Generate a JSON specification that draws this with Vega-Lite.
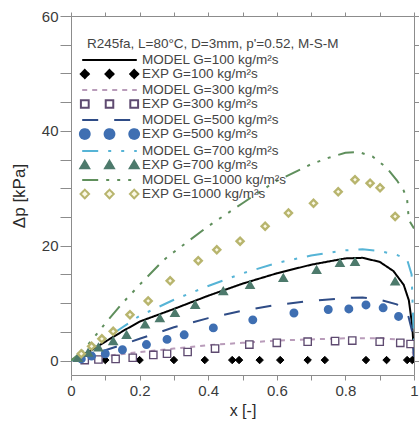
{
  "$schema": "https://vega.github.io/schema/vega-lite/v6.json",
  "width": 343,
  "height": 359,
  "autosize": {"type": "none"},
  "padding": {"left": 71, "top": 16, "right": 5, "bottom": 46},
  "config": {
    "font": "Liberation Sans",
    "view": {"stroke": "#8c8c8c", "strokeWidth": 1},
    "axis": {
      "grid": false,
      "domain": false,
      "tickColor": "#8c8c8c",
      "labelColor": "#3a3a3a",
      "titleColor": "#2a2a2a",
      "titleFontWeight": "normal",
      "labelFont": "Liberation Sans",
      "titleFont": "Liberation Sans"
    }
  },
  "datasets": {
    "runs": [
      {"series": "MODEL G=100 kg/m²s", "kind": "MODEL", "x": 0, "dp": 0},
      {"series": "MODEL G=100 kg/m²s", "kind": "MODEL", "x": 0.05, "dp": 1.5},
      {"series": "MODEL G=100 kg/m²s", "kind": "MODEL", "x": 0.1, "dp": 3.3},
      {"series": "MODEL G=100 kg/m²s", "kind": "MODEL", "x": 0.15, "dp": 5.1},
      {"series": "MODEL G=100 kg/m²s", "kind": "MODEL", "x": 0.2, "dp": 6.8},
      {"series": "MODEL G=100 kg/m²s", "kind": "MODEL", "x": 0.3, "dp": 9.0},
      {"series": "MODEL G=100 kg/m²s", "kind": "MODEL", "x": 0.4, "dp": 11.3},
      {"series": "MODEL G=100 kg/m²s", "kind": "MODEL", "x": 0.5, "dp": 13.4},
      {"series": "MODEL G=100 kg/m²s", "kind": "MODEL", "x": 0.6, "dp": 15.2},
      {"series": "MODEL G=100 kg/m²s", "kind": "MODEL", "x": 0.7, "dp": 16.7},
      {"series": "MODEL G=100 kg/m²s", "kind": "MODEL", "x": 0.8, "dp": 17.8},
      {"series": "MODEL G=100 kg/m²s", "kind": "MODEL", "x": 0.85, "dp": 17.9},
      {"series": "MODEL G=100 kg/m²s", "kind": "MODEL", "x": 0.9, "dp": 17.2},
      {"series": "MODEL G=100 kg/m²s", "kind": "MODEL", "x": 0.94, "dp": 15.6},
      {"series": "MODEL G=100 kg/m²s", "kind": "MODEL", "x": 0.97, "dp": 13.2},
      {"series": "MODEL G=100 kg/m²s", "kind": "MODEL", "x": 0.985, "dp": 10.5},
      {"series": "MODEL G=100 kg/m²s", "kind": "MODEL", "x": 0.995, "dp": 6.0},
      {"series": "MODEL G=100 kg/m²s", "kind": "MODEL", "x": 1.0, "dp": 1.0},

      {"series": "MODEL G=300 kg/m²s", "kind": "MODEL", "x": 0, "dp": 0},
      {"series": "MODEL G=300 kg/m²s", "kind": "MODEL", "x": 0.1, "dp": 0.8},
      {"series": "MODEL G=300 kg/m²s", "kind": "MODEL", "x": 0.2, "dp": 1.5},
      {"series": "MODEL G=300 kg/m²s", "kind": "MODEL", "x": 0.3, "dp": 2.1},
      {"series": "MODEL G=300 kg/m²s", "kind": "MODEL", "x": 0.4, "dp": 2.7},
      {"series": "MODEL G=300 kg/m²s", "kind": "MODEL", "x": 0.5, "dp": 3.1},
      {"series": "MODEL G=300 kg/m²s", "kind": "MODEL", "x": 0.6, "dp": 3.5},
      {"series": "MODEL G=300 kg/m²s", "kind": "MODEL", "x": 0.7, "dp": 3.7},
      {"series": "MODEL G=300 kg/m²s", "kind": "MODEL", "x": 0.8, "dp": 3.9},
      {"series": "MODEL G=300 kg/m²s", "kind": "MODEL", "x": 0.9, "dp": 3.9},
      {"series": "MODEL G=300 kg/m²s", "kind": "MODEL", "x": 0.95, "dp": 3.7},
      {"series": "MODEL G=300 kg/m²s", "kind": "MODEL", "x": 0.99, "dp": 3.1},
      {"series": "MODEL G=300 kg/m²s", "kind": "MODEL", "x": 1.0, "dp": 0.5},

      {"series": "MODEL G=500 kg/m²s", "kind": "MODEL", "x": 0, "dp": 0},
      {"series": "MODEL G=500 kg/m²s", "kind": "MODEL", "x": 0.1, "dp": 1.8},
      {"series": "MODEL G=500 kg/m²s", "kind": "MODEL", "x": 0.2, "dp": 3.8},
      {"series": "MODEL G=500 kg/m²s", "kind": "MODEL", "x": 0.3, "dp": 5.8},
      {"series": "MODEL G=500 kg/m²s", "kind": "MODEL", "x": 0.4, "dp": 7.4},
      {"series": "MODEL G=500 kg/m²s", "kind": "MODEL", "x": 0.5, "dp": 8.7},
      {"series": "MODEL G=500 kg/m²s", "kind": "MODEL", "x": 0.6, "dp": 9.7},
      {"series": "MODEL G=500 kg/m²s", "kind": "MODEL", "x": 0.7, "dp": 10.4},
      {"series": "MODEL G=500 kg/m²s", "kind": "MODEL", "x": 0.8, "dp": 10.9},
      {"series": "MODEL G=500 kg/m²s", "kind": "MODEL", "x": 0.85, "dp": 11.0},
      {"series": "MODEL G=500 kg/m²s", "kind": "MODEL", "x": 0.9, "dp": 10.6},
      {"series": "MODEL G=500 kg/m²s", "kind": "MODEL", "x": 0.95, "dp": 9.8},
      {"series": "MODEL G=500 kg/m²s", "kind": "MODEL", "x": 0.98, "dp": 8.6},
      {"series": "MODEL G=500 kg/m²s", "kind": "MODEL", "x": 0.995, "dp": 5.0},
      {"series": "MODEL G=500 kg/m²s", "kind": "MODEL", "x": 1.0, "dp": 0.5},

      {"series": "MODEL G=700 kg/m²s", "kind": "MODEL", "x": 0, "dp": 0},
      {"series": "MODEL G=700 kg/m²s", "kind": "MODEL", "x": 0.05, "dp": 1.8},
      {"series": "MODEL G=700 kg/m²s", "kind": "MODEL", "x": 0.1, "dp": 3.8},
      {"series": "MODEL G=700 kg/m²s", "kind": "MODEL", "x": 0.2, "dp": 7.8},
      {"series": "MODEL G=700 kg/m²s", "kind": "MODEL", "x": 0.3, "dp": 10.6},
      {"series": "MODEL G=700 kg/m²s", "kind": "MODEL", "x": 0.4, "dp": 13.0},
      {"series": "MODEL G=700 kg/m²s", "kind": "MODEL", "x": 0.5, "dp": 15.2},
      {"series": "MODEL G=700 kg/m²s", "kind": "MODEL", "x": 0.6, "dp": 17.0},
      {"series": "MODEL G=700 kg/m²s", "kind": "MODEL", "x": 0.7, "dp": 18.3},
      {"series": "MODEL G=700 kg/m²s", "kind": "MODEL", "x": 0.8, "dp": 19.2},
      {"series": "MODEL G=700 kg/m²s", "kind": "MODEL", "x": 0.85, "dp": 19.4},
      {"series": "MODEL G=700 kg/m²s", "kind": "MODEL", "x": 0.9, "dp": 19.1},
      {"series": "MODEL G=700 kg/m²s", "kind": "MODEL", "x": 0.95, "dp": 18.4},
      {"series": "MODEL G=700 kg/m²s", "kind": "MODEL", "x": 0.98, "dp": 17.6},
      {"series": "MODEL G=700 kg/m²s", "kind": "MODEL", "x": 0.993, "dp": 15.0},
      {"series": "MODEL G=700 kg/m²s", "kind": "MODEL", "x": 1.0, "dp": 3.0},

      {"series": "MODEL G=1000 kg/m²s", "kind": "MODEL", "x": 0, "dp": 0},
      {"series": "MODEL G=1000 kg/m²s", "kind": "MODEL", "x": 0.03, "dp": 1.5},
      {"series": "MODEL G=1000 kg/m²s", "kind": "MODEL", "x": 0.06, "dp": 3.5},
      {"series": "MODEL G=1000 kg/m²s", "kind": "MODEL", "x": 0.1, "dp": 6.5},
      {"series": "MODEL G=1000 kg/m²s", "kind": "MODEL", "x": 0.15, "dp": 10.0},
      {"series": "MODEL G=1000 kg/m²s", "kind": "MODEL", "x": 0.2, "dp": 13.2},
      {"series": "MODEL G=1000 kg/m²s", "kind": "MODEL", "x": 0.27, "dp": 17.5},
      {"series": "MODEL G=1000 kg/m²s", "kind": "MODEL", "x": 0.3, "dp": 18.9},
      {"series": "MODEL G=1000 kg/m²s", "kind": "MODEL", "x": 0.4, "dp": 23.4},
      {"series": "MODEL G=1000 kg/m²s", "kind": "MODEL", "x": 0.5, "dp": 27.4},
      {"series": "MODEL G=1000 kg/m²s", "kind": "MODEL", "x": 0.56, "dp": 29.8},
      {"series": "MODEL G=1000 kg/m²s", "kind": "MODEL", "x": 0.6, "dp": 31.3},
      {"series": "MODEL G=1000 kg/m²s", "kind": "MODEL", "x": 0.7, "dp": 34.2},
      {"series": "MODEL G=1000 kg/m²s", "kind": "MODEL", "x": 0.75, "dp": 35.3},
      {"series": "MODEL G=1000 kg/m²s", "kind": "MODEL", "x": 0.8, "dp": 36.2},
      {"series": "MODEL G=1000 kg/m²s", "kind": "MODEL", "x": 0.84, "dp": 36.3},
      {"series": "MODEL G=1000 kg/m²s", "kind": "MODEL", "x": 0.88, "dp": 35.5},
      {"series": "MODEL G=1000 kg/m²s", "kind": "MODEL", "x": 0.92, "dp": 33.6},
      {"series": "MODEL G=1000 kg/m²s", "kind": "MODEL", "x": 0.95, "dp": 31.4},
      {"series": "MODEL G=1000 kg/m²s", "kind": "MODEL", "x": 0.97, "dp": 29.6},
      {"series": "MODEL G=1000 kg/m²s", "kind": "MODEL", "x": 0.98, "dp": 28.0},
      {"series": "MODEL G=1000 kg/m²s", "kind": "MODEL", "x": 0.985, "dp": 24.5},
      {"series": "MODEL G=1000 kg/m²s", "kind": "MODEL", "x": 1.0, "dp": 23.0},

      {"series": "EXP G=100 kg/m²s", "kind": "EXP", "x": 0.1, "dp": 0.1},
      {"series": "EXP G=100 kg/m²s", "kind": "EXP", "x": 0.2, "dp": 0.1},
      {"series": "EXP G=100 kg/m²s", "kind": "EXP", "x": 0.3, "dp": 0.1},
      {"series": "EXP G=100 kg/m²s", "kind": "EXP", "x": 0.39, "dp": 0.1},
      {"series": "EXP G=100 kg/m²s", "kind": "EXP", "x": 0.47, "dp": 0.1},
      {"series": "EXP G=100 kg/m²s", "kind": "EXP", "x": 0.49, "dp": 0.1},
      {"series": "EXP G=100 kg/m²s", "kind": "EXP", "x": 0.55, "dp": 0.1},
      {"series": "EXP G=100 kg/m²s", "kind": "EXP", "x": 0.61, "dp": 0.1},
      {"series": "EXP G=100 kg/m²s", "kind": "EXP", "x": 0.69, "dp": 0.1},
      {"series": "EXP G=100 kg/m²s", "kind": "EXP", "x": 0.74, "dp": 0.1},
      {"series": "EXP G=100 kg/m²s", "kind": "EXP", "x": 0.86, "dp": 0.1},
      {"series": "EXP G=100 kg/m²s", "kind": "EXP", "x": 0.92, "dp": 0.1},
      {"series": "EXP G=100 kg/m²s", "kind": "EXP", "x": 0.98, "dp": 0.1},
      {"series": "EXP G=100 kg/m²s", "kind": "EXP", "x": 0.995, "dp": 0.1},

      {"series": "EXP G=300 kg/m²s", "kind": "EXP", "x": 0.04, "dp": 0.1},
      {"series": "EXP G=300 kg/m²s", "kind": "EXP", "x": 0.08, "dp": 0.2},
      {"series": "EXP G=300 kg/m²s", "kind": "EXP", "x": 0.13, "dp": 0.3},
      {"series": "EXP G=300 kg/m²s", "kind": "EXP", "x": 0.18, "dp": 0.5},
      {"series": "EXP G=300 kg/m²s", "kind": "EXP", "x": 0.24, "dp": 1.0},
      {"series": "EXP G=300 kg/m²s", "kind": "EXP", "x": 0.28, "dp": 1.2},
      {"series": "EXP G=300 kg/m²s", "kind": "EXP", "x": 0.34, "dp": 1.5},
      {"series": "EXP G=300 kg/m²s", "kind": "EXP", "x": 0.42, "dp": 2.1},
      {"series": "EXP G=300 kg/m²s", "kind": "EXP", "x": 0.52, "dp": 2.8},
      {"series": "EXP G=300 kg/m²s", "kind": "EXP", "x": 0.6, "dp": 3.1},
      {"series": "EXP G=300 kg/m²s", "kind": "EXP", "x": 0.69, "dp": 3.3},
      {"series": "EXP G=300 kg/m²s", "kind": "EXP", "x": 0.77, "dp": 3.4},
      {"series": "EXP G=300 kg/m²s", "kind": "EXP", "x": 0.82, "dp": 3.5},
      {"series": "EXP G=300 kg/m²s", "kind": "EXP", "x": 0.9, "dp": 3.3},
      {"series": "EXP G=300 kg/m²s", "kind": "EXP", "x": 0.96, "dp": 3.1},
      {"series": "EXP G=300 kg/m²s", "kind": "EXP", "x": 0.99, "dp": 2.9},

      {"series": "EXP G=500 kg/m²s", "kind": "EXP", "x": 0.03, "dp": 0.3},
      {"series": "EXP G=500 kg/m²s", "kind": "EXP", "x": 0.06, "dp": 0.8},
      {"series": "EXP G=500 kg/m²s", "kind": "EXP", "x": 0.1, "dp": 1.2},
      {"series": "EXP G=500 kg/m²s", "kind": "EXP", "x": 0.15, "dp": 1.9},
      {"series": "EXP G=500 kg/m²s", "kind": "EXP", "x": 0.22, "dp": 2.8},
      {"series": "EXP G=500 kg/m²s", "kind": "EXP", "x": 0.28, "dp": 3.7},
      {"series": "EXP G=500 kg/m²s", "kind": "EXP", "x": 0.33, "dp": 4.5},
      {"series": "EXP G=500 kg/m²s", "kind": "EXP", "x": 0.415, "dp": 5.7},
      {"series": "EXP G=500 kg/m²s", "kind": "EXP", "x": 0.53, "dp": 7.1},
      {"series": "EXP G=500 kg/m²s", "kind": "EXP", "x": 0.65, "dp": 8.3},
      {"series": "EXP G=500 kg/m²s", "kind": "EXP", "x": 0.75, "dp": 8.9},
      {"series": "EXP G=500 kg/m²s", "kind": "EXP", "x": 0.81, "dp": 9.0},
      {"series": "EXP G=500 kg/m²s", "kind": "EXP", "x": 0.86, "dp": 9.7},
      {"series": "EXP G=500 kg/m²s", "kind": "EXP", "x": 0.91, "dp": 9.2},
      {"series": "EXP G=500 kg/m²s", "kind": "EXP", "x": 0.955, "dp": 7.7},

      {"series": "EXP G=700 kg/m²s", "kind": "EXP", "x": 0.02, "dp": 0.5},
      {"series": "EXP G=700 kg/m²s", "kind": "EXP", "x": 0.05, "dp": 1.4},
      {"series": "EXP G=700 kg/m²s", "kind": "EXP", "x": 0.08, "dp": 2.3},
      {"series": "EXP G=700 kg/m²s", "kind": "EXP", "x": 0.123, "dp": 3.4},
      {"series": "EXP G=700 kg/m²s", "kind": "EXP", "x": 0.162, "dp": 4.5},
      {"series": "EXP G=700 kg/m²s", "kind": "EXP", "x": 0.216, "dp": 6.3},
      {"series": "EXP G=700 kg/m²s", "kind": "EXP", "x": 0.259, "dp": 7.4},
      {"series": "EXP G=700 kg/m²s", "kind": "EXP", "x": 0.303, "dp": 8.3},
      {"series": "EXP G=700 kg/m²s", "kind": "EXP", "x": 0.362, "dp": 9.7},
      {"series": "EXP G=700 kg/m²s", "kind": "EXP", "x": 0.444, "dp": 12.1},
      {"series": "EXP G=700 kg/m²s", "kind": "EXP", "x": 0.522, "dp": 13.2},
      {"series": "EXP G=700 kg/m²s", "kind": "EXP", "x": 0.619, "dp": 14.4},
      {"series": "EXP G=700 kg/m²s", "kind": "EXP", "x": 0.716, "dp": 15.8},
      {"series": "EXP G=700 kg/m²s", "kind": "EXP", "x": 0.784, "dp": 17.0},
      {"series": "EXP G=700 kg/m²s", "kind": "EXP", "x": 0.828, "dp": 17.2},
      {"series": "EXP G=700 kg/m²s", "kind": "EXP", "x": 0.945, "dp": 13.8},

      {"series": "EXP G=1000 kg/m²s", "kind": "EXP", "x": 0.03, "dp": 1.2},
      {"series": "EXP G=1000 kg/m²s", "kind": "EXP", "x": 0.06, "dp": 2.5},
      {"series": "EXP G=1000 kg/m²s", "kind": "EXP", "x": 0.09, "dp": 3.8},
      {"series": "EXP G=1000 kg/m²s", "kind": "EXP", "x": 0.123, "dp": 5.1},
      {"series": "EXP G=1000 kg/m²s", "kind": "EXP", "x": 0.172, "dp": 8.0},
      {"series": "EXP G=1000 kg/m²s", "kind": "EXP", "x": 0.225, "dp": 10.4},
      {"series": "EXP G=1000 kg/m²s", "kind": "EXP", "x": 0.289, "dp": 13.9},
      {"series": "EXP G=1000 kg/m²s", "kind": "EXP", "x": 0.371, "dp": 17.4},
      {"series": "EXP G=1000 kg/m²s", "kind": "EXP", "x": 0.425, "dp": 19.3},
      {"series": "EXP G=1000 kg/m²s", "kind": "EXP", "x": 0.493, "dp": 20.8},
      {"series": "EXP G=1000 kg/m²s", "kind": "EXP", "x": 0.566, "dp": 23.4},
      {"series": "EXP G=1000 kg/m²s", "kind": "EXP", "x": 0.634, "dp": 25.7},
      {"series": "EXP G=1000 kg/m²s", "kind": "EXP", "x": 0.707, "dp": 27.4},
      {"series": "EXP G=1000 kg/m²s", "kind": "EXP", "x": 0.779, "dp": 29.4},
      {"series": "EXP G=1000 kg/m²s", "kind": "EXP", "x": 0.828, "dp": 31.5},
      {"series": "EXP G=1000 kg/m²s", "kind": "EXP", "x": 0.872, "dp": 30.9},
      {"series": "EXP G=1000 kg/m²s", "kind": "EXP", "x": 0.901, "dp": 30.1},
      {"series": "EXP G=1000 kg/m²s", "kind": "EXP", "x": 0.945, "dp": 25.1}
    ]
  },
  "data": {"name": "runs"},
  "resolve": {"axis": {"x": "independent", "y": "independent"}},
  "layer": [
    {
      "transform": [{"filter": "datum.kind === 'MODEL'"}],
      "mark": {"type": "line", "strokeWidth": 2, "clip": true},
      "encoding": {
        "x": {
          "field": "x", "type": "quantitative",
          "scale": {"domain": [0, 1], "nice": false, "zero": false},
          "axis": {
            "orient": "bottom",
            "title": "x [-]",
            "values": [0, 0.1, 0.2, 0.3, 0.4, 0.5, 0.6, 0.7, 0.8, 0.9, 1],
            "format": "~g",
            "labelExpr": "round(datum.value * 10) % 2 === 0 ? datum.label : ''",
            "tickSize": 5,
            "labelPadding": 3,
            "labelFontSize": 15,
            "titleFontSize": 16,
            "titlePadding": 4,
            "labelFlush": false,
            "labelOverlap": false
          }
        },
        "y": {
          "field": "dp", "type": "quantitative",
          "scale": {"domain": [-2.5, 60], "nice": false, "zero": false},
          "axis": {
            "orient": "left",
            "title": "Δp [kPa]",
            "values": [0, 5, 10, 15, 20, 25, 30, 35, 40, 45, 50, 55, 60],
            "labelExpr": "datum.value % 20 === 0 ? datum.label : ''",
            "tickSize": 11,
            "labelPadding": 2,
            "labelFontSize": 15,
            "titleFontSize": 17,
            "titlePadding": 13,
            "labelOverlap": false,
            "encode": {
              "ticks": {"update": {"x2": {"signal": "datum.value % 20 === 0 ? -11 : -6"}}}
            }
          }
        },
        "color": {
          "field": "series", "type": "nominal",
          "scale": {
            "domain": [
              "MODEL G=100 kg/m²s", "EXP G=100 kg/m²s",
              "MODEL G=300 kg/m²s", "EXP G=300 kg/m²s",
              "MODEL G=500 kg/m²s", "EXP G=500 kg/m²s",
              "MODEL G=700 kg/m²s", "EXP G=700 kg/m²s",
              "MODEL G=1000 kg/m²s", "EXP G=1000 kg/m²s"
            ],
            "range": ["#000000", "#000000", "#b99cba", "#5e4a70", "#2f4c86", "#3f6fb2", "#56b4d6", "#4d7a6c", "#5f8f5c", "#b8b56e"]
          },
          "legend": {
            "orient": "none",
            "legendX": 16,
            "legendY": 21,
            "padding": 0,
            "title": "R245fa, L=80°C, D=3mm, p'=0.52, M-S-M",
            "titleFont": "Liberation Sans",
            "titleFontSize": 13.5,
            "titleFontWeight": "normal",
            "titleColor": "#444444",
            "titleLimit": 400,
            "titlePadding": 2,
            "labelFont": "Liberation Sans",
            "labelFontSize": 13.5,
            "labelColor": "#444444",
            "labelLimit": 300,
            "symbolSize": 169,
            "symbolStrokeWidth": 2,
            "symbolOffset": 15,
            "labelOffset": 25,
            "rowPadding": -2.4,
            "encode": {
              "symbols": {
                "update": {
                  "shape": {"signal": "['M-4.2,0H4.2', 'M-3.8,-0.62L-3.18,0L-3.8,0.62L-4.42,0Z M0,-0.62L0.62,0L0,0.62L-0.62,0Z M3.8,-0.62L4.42,0L3.8,0.62L3.18,0Z', 'M-4.2,0H4.2', 'M-4.4,-0.58H-3.2V0.58H-4.4Z M-0.58,-0.58H0.58V0.58H-0.58Z M3.2,-0.58H4.4V0.58H3.2Z', 'M-4.2,0H4.2', 'M-4.55,0A0.75,0.75 0 1,0 -3.05,0A0.75,0.75 0 1,0 -4.55,0Z M-0.75,0A0.75,0.75 0 1,0 0.75,0A0.75,0.75 0 1,0 -0.75,0Z M3.05,0A0.75,0.75 0 1,0 4.55,0A0.75,0.75 0 1,0 3.05,0Z', 'M-4.2,0H4.2', 'M-3.8,-0.65L-3.12,0.5L-4.48,0.5Z M0,-0.65L0.68,0.5L-0.68,0.5Z M3.8,-0.65L4.48,0.5L3.12,0.5Z', 'M-4.2,0H4.2', 'M-3.8,-0.66L-3.14,0L-3.8,0.66L-4.46,0Z M0,-0.66L0.66,0L0,0.66L-0.66,0Z M3.8,-0.66L4.46,0L3.8,0.66L3.14,0Z'][datum.index]"},
                  "strokeDash": {"signal": "[[1,0],[1,0],[5,5],[1,0],[16,16],[1,0],[16,10,3,10,3,10],[1,0],[16,8,3,8,3,8,3,8],[1,0]][datum.index]"},
                  "fill": {"signal": "['transparent','#000000','transparent','#ffffff','transparent','#3f6fb2','transparent','#4d7a6c','transparent','#fbf9e6'][datum.index]"},
                  "stroke": {"signal": "['#000000','#000000','#b99cba','#5e4a70','#2f4c86','#3f6fb2','#56b4d6','#4d7a6c','#5f8f5c','#b8b56e'][datum.index]"},
                  "opacity": {"value": 1}
                }
              }
            }
          }
        },
        "strokeDash": {
          "field": "series", "type": "nominal",
          "scale": {
            "domain": ["MODEL G=100 kg/m²s", "MODEL G=300 kg/m²s", "MODEL G=500 kg/m²s", "MODEL G=700 kg/m²s", "MODEL G=1000 kg/m²s"],
            "range": [[1, 0], [5, 5], [16, 16], [16, 10, 3, 10, 3, 10], [16, 8, 3, 8, 3, 8, 3, 8]]
          },
          "legend": null
        }
      }
    },
    {
      "transform": [{"filter": "datum.kind === 'EXP'"}],
      "mark": {"type": "point", "opacity": 1, "clip": true},
      "encoding": {
        "x": {
          "field": "x", "type": "quantitative",
          "axis": {
            "orient": "top", "labels": false, "title": null,
            "values": [0, 0.1, 0.2, 0.3, 0.4, 0.5, 0.6, 0.7, 0.8, 0.9, 1],
            "tickSize": 4,
            "encode": {"ticks": {"update": {"y2": {"value": 4}}}}
          }
        },
        "y": {
          "field": "dp", "type": "quantitative",
          "axis": {
            "orient": "right", "labels": false, "title": null,
            "values": [0, 5, 10, 15, 20, 25, 30, 35, 40, 45, 50, 55, 60],
            "tickSize": 5,
            "encode": {"ticks": {"update": {"x2": {"value": -5}}}}
          }
        },
        "shape": {
          "field": "series", "type": "nominal",
          "scale": {
            "domain": ["EXP G=100 kg/m²s", "EXP G=300 kg/m²s", "EXP G=500 kg/m²s", "EXP G=700 kg/m²s", "EXP G=1000 kg/m²s"],
            "range": ["diamond", "square", "circle", "triangle-up", "diamond"]
          },
          "legend": null
        },
        "fill": {
          "field": "series", "type": "nominal",
          "scale": {
            "domain": ["EXP G=100 kg/m²s", "EXP G=300 kg/m²s", "EXP G=500 kg/m²s", "EXP G=700 kg/m²s", "EXP G=1000 kg/m²s"],
            "range": ["#000000", "#ffffff", "#3f6fb2", "#4d7a6c", "#fbf9e6"]
          },
          "legend": null
        },
        "stroke": {
          "field": "series", "type": "nominal",
          "scale": {
            "domain": ["EXP G=100 kg/m²s", "EXP G=300 kg/m²s", "EXP G=500 kg/m²s", "EXP G=700 kg/m²s", "EXP G=1000 kg/m²s"],
            "range": ["#000000", "#5e4a70", "#3f6fb2", "#4d7a6c", "#b8b56e"]
          },
          "legend": null
        },
        "strokeWidth": {
          "field": "series", "type": "nominal",
          "scale": {
            "domain": ["EXP G=100 kg/m²s", "EXP G=300 kg/m²s", "EXP G=500 kg/m²s", "EXP G=700 kg/m²s", "EXP G=1000 kg/m²s"],
            "range": [1, 2.4, 1, 1, 2.4]
          },
          "legend": null
        },
        "size": {
          "field": "series", "type": "nominal",
          "scale": {
            "domain": ["EXP G=100 kg/m²s", "EXP G=300 kg/m²s", "EXP G=500 kg/m²s", "EXP G=700 kg/m²s", "EXP G=1000 kg/m²s"],
            "range": [55, 50, 110, 70, 60]
          },
          "legend": null
        }
      }
    }
  ]
}
